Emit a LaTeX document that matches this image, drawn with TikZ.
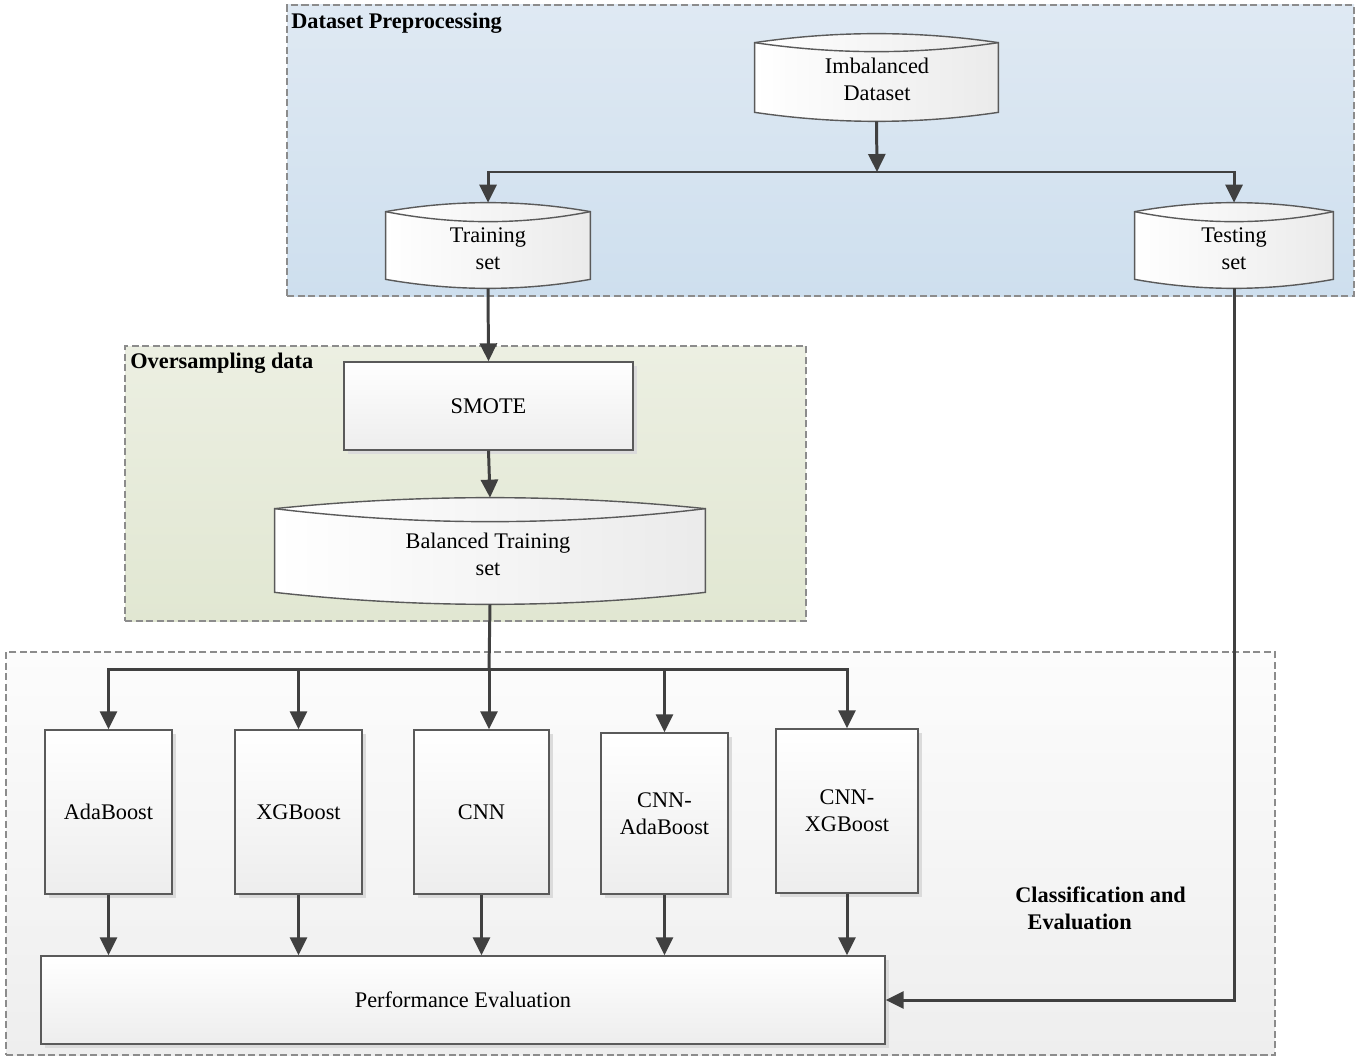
\documentclass[tikz,border=0pt]{standalone}
\usepackage{fontspec}
\setmainfont{Liberation Serif}
\usetikzlibrary{arrows.meta,fit,calc,shadows}
\definecolor{arrowc}{HTML}{404040}
\definecolor{edgec}{HTML}{5A5A5A}
\definecolor{dashc}{HTML}{8C8C8C}
\definecolor{blueT}{HTML}{DFE9F3}
\definecolor{blueB}{HTML}{CEDFEE}
\definecolor{greenT}{HTML}{ECEFE2}
\definecolor{greenB}{HTML}{E1E7D2}
\definecolor{grayT}{HTML}{FCFCFC}
\definecolor{grayB}{HTML}{EEEEEE}
\tikzset{
  txt/.style={font=\fontsize{12.7pt}{15.4pt}\selectfont, align=center},
  panel/.style={draw=dashc, dashed, dash pattern=on 4pt off 2pt, line width=0.6pt, inner sep=0pt},
  ptitle/.style={font=\fontsize{12.7pt}{15.4pt}\selectfont\bfseries, anchor=west, inner sep=0pt, align=left},
  procbox/.style={txt, draw=edgec, line width=0.8pt, inner sep=0pt, top color=white, bottom color=gray!14,
     drop shadow={opacity=1, fill=black!14, shadow xshift=0.08cm, shadow yshift=-0.08cm}},
  dbnode/.style={txt, inner sep=0pt},
  arr/.style={draw=arrowc, line width=1.7pt, -{Triangle[length=0.36cm, width=0.34cm]}},
  lin/.style={draw=arrowc, line width=1.7pt},
}
% cylinder drawing: #1 node, #2 top bulge, #3 lens depth, #4 bottom depth
\newcommand\dbpathcmd[4]{let \p1=(#1.north west), \p2=(#1.south east) in
  (\x1,{\y1-#2}) .. controls ({\x1+(\x2-\x1)/3},{\y1-#2+4*#2/3}) and ({\x2-(\x2-\x1)/3},{\y1-#2+4*#2/3}) .. (\x2,{\y1-#2})
  -- (\x2,{\y2+#4}) .. controls ({\x2-(\x2-\x1)/3},{\y2+#4-4*#4/3}) and ({\x1+(\x2-\x1)/3},{\y2+#4-4*#4/3}) .. (\x1,{\y2+#4}) -- cycle}
\newcommand\dblenscmd[3]{let \p1=(#1.north west), \p2=(#1.south east) in
  (\x1,{\y1-#2}) .. controls ({\x1+(\x2-\x1)/3},{\y1-#2-4*#3/3}) and ({\x2-(\x2-\x1)/3},{\y1-#2-4*#3/3}) .. (\x2,{\y1-#2})}
\newcommand\dbdraw[4]{%
  \fill[black!14, xshift=0.08cm, yshift=-0.08cm] \dbpathcmd{#1}{#2}{#3}{#4};
  \shade[left color=white, right color=gray!16] \dbpathcmd{#1}{#2}{#3}{#4};
  \draw[edgec, line width=0.8pt] \dbpathcmd{#1}{#2}{#3}{#4};
  \draw[edgec, line width=0.8pt] \dblenscmd{#1}{#2}{#3};
}
\begin{document}
\begin{tikzpicture}[x=0.02cm, y=-0.02cm]
\useasboundingbox (0,0) rectangle (1364,1057);
% panels
\node[panel, top color=blueT, bottom color=blueB, fit={(287,5) (1354,296)}] (pdata) {};
\node[panel, top color=greenT, bottom color=greenB, fit={(125,346) (806,621)}] (pover) {};
\node[panel, top color=grayT, bottom color=grayB, fit={(6,652) (1275,1055)}] (pclass) {};
\node[ptitle] (tdata) at (291,23) {Dataset Preprocessing};
\node[ptitle] (tover) at (130,363) {Oversampling data};
\node[ptitle, anchor=west] (tclass) at (1015,908) {Classification and\\\hspace{0.55em}Evaluation};

% cylinders
\node[dbnode, fit={(755,34) (998,121)}] (imb) {};
\dbdraw{imb}{0.18cm}{0.18cm}{0.18cm}
\node[txt] at (877,79) {Imbalanced\\Dataset};

\node[dbnode, fit={(386,203) (590,288)}] (trn) {};
\dbdraw{trn}{0.18cm}{0.2cm}{0.18cm}
\node[txt] at (488,249) {Training\\set};

\node[dbnode, fit={(1135,203) (1333,288)}] (tst) {};
\dbdraw{tst}{0.18cm}{0.2cm}{0.18cm}
\node[txt] at (1234,249) {Testing\\set};

\node[dbnode, fit={(275,498) (705,604)}] (bal) {};
\dbdraw{bal}{0.22cm}{0.26cm}{0.24cm}
\node[txt] at (488,554) {Balanced Training\\set};

% rectangles
\node[procbox, fit={(344,362) (633,450)}] (smote) {};
\node[txt] at (smote.center) {SMOTE};
\node[procbox, fit={(45,730) (172,894)}] (ada) {};
\node[txt] at (ada.center) {AdaBoost};
\node[procbox, fit={(235,730) (362,894)}] (xgb) {};
\node[txt] at (xgb.center) {XGBoost};
\node[procbox, fit={(414,730) (549,894)}] (cnn) {};
\node[txt] at (cnn.center) {CNN};
\node[procbox, fit={(601,733) (728,894)}] (cada) {};
\node[txt] at (cada.center) {CNN-\\AdaBoost};
\node[procbox, fit={(776,729) (918,893)}] (cxgb) {};
\node[txt] at (cxgb.center) {CNN-\\XGBoost};
\node[procbox, fit={(41,956) (885,1044)}] (perf) {};
\node[txt] at (perf.center) {Performance Evaluation};

% connectors
\coordinate (j1) at (877,172);
\coordinate (j2) at (489,669);
\draw[arr] (imb.south) -- (j1);
\draw[lin] (trn.north |- j1) -- (tst.north |- j1);
\draw[arr] (j1) -| (trn.north);
\draw[arr] (j1) -| (tst.north);
\draw[arr] (trn.south) -- (smote.north);
\draw[arr] (smote.south) -- (bal.north);
\draw[lin] (bal.south) -- (j2);
\draw[lin] (ada.north |- j2) -- (cxgb.north |- j2);
\draw[arr] (j2) -| (ada.north);
\draw[arr] (j2) -| (xgb.north);
\draw[arr] (j2) -- (j2 |- cnn.north);
\draw[arr] (j2) -| (cada.north);
\draw[arr] (j2) -| (cxgb.north);
\foreach \m in {ada,xgb,cnn,cada,cxgb}{
  \draw[arr] (\m.south) -- (\m.south |- perf.north);
}
\draw[arr] (tst.south) |- (perf.east);
\end{tikzpicture}
\end{document}
